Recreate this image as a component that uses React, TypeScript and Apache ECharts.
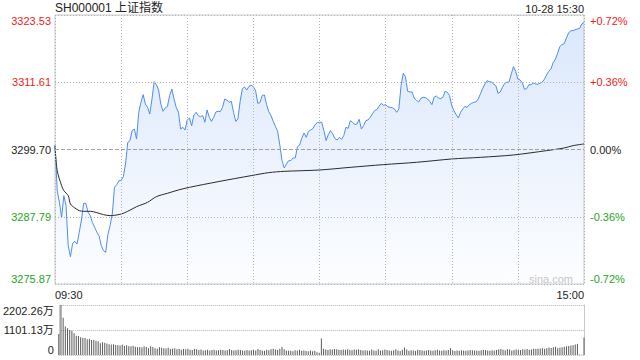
import React, { useEffect, useRef } from "react";
import * as echarts from "echarts";

const title = "SH000001 上证指数";
const dateText = "10-28 15:30";
const preClose = 3299.7;
const halfRange = 23.83;
const leftLabels = ["3275.87", "3287.79", "3299.70", "3311.61", "3323.53"];
const rightLabels = ["-0.72%", "-0.36%", "0.00%", "+0.36%", "+0.72%"];
const volLabels = ["0", "1101.13万", "2202.26万"];
const volMax = 2202.26;
const timeLabels = ["09:30", "15:00"];

// minute-by-minute index price (index = minutes since 09:30, lunch break removed)
const prices = [
  3300.38, 3292.41, 3290.34, 3287.68, 3291.52, 3289.75, 3282.66, 3280.71, 3283.08, 3283.43,
  3282.96, 3285.03, 3287.21, 3290.16, 3290.16, 3288.57, 3287.98, 3286.74, 3285.91, 3285.03,
  3284.38, 3282.66, 3281.78, 3281.48, 3284.61, 3286.21, 3288.27, 3293.0, 3293.47, 3294.18,
  3294.18, 3294.89, 3297.13, 3300.97, 3301.27, 3303.04, 3303.33, 3301.56, 3306.29, 3308.06,
  3309.42, 3307.76, 3307.17, 3305.99, 3308.65, 3311.72, 3311.19, 3310.24, 3307.76, 3306.47,
  3307.06, 3307.29, 3309.24, 3310.42, 3308.65, 3307.17, 3306.29, 3303.33, 3303.63, 3303.16,
  3304.93, 3305.28, 3303.92, 3305.82, 3306.29, 3305.7, 3305.52, 3305.7, 3304.52, 3306.7,
  3305.4, 3304.69, 3305.4, 3306.35, 3306.47, 3306.41, 3307.17, 3308.65, 3308.47, 3308.06,
  3308.24, 3306.29, 3304.69, 3305.11, 3308.24, 3310.48, 3310.78, 3310.24, 3310.89, 3311.07,
  3310.84, 3310.13, 3307.88, 3308.0, 3309.3, 3309.36, 3307.65, 3306.41, 3305.7, 3304.69,
  3303.81, 3302.92, 3300.5, 3297.72, 3296.42, 3297.13, 3297.72, 3297.72, 3298.2, 3298.2,
  3300.2, 3300.5, 3301.74, 3302.63, 3301.86, 3302.92, 3303.16, 3303.39, 3304.1, 3304.46,
  3304.52, 3304.52, 3303.04, 3301.27, 3302.33, 3303.04, 3302.45, 3301.62, 3301.39, 3301.86,
  3301.5, 3302.15, 3303.63, 3303.45, 3304.81, 3304.52, 3304.1, 3304.22, 3305.05, 3303.33,
  3303.92, 3304.81, 3304.93, 3305.4, 3305.99, 3306.58, 3306.76, 3307.35, 3307.88, 3307.53,
  3307.65, 3307.29, 3307.17, 3307.11, 3306.88, 3306.29, 3306.88, 3311.01, 3313.2, 3312.61,
  3310.01, 3309.89, 3309.89, 3308.77, 3308.41, 3308.12, 3308.77, 3308.95, 3308.89, 3308.65,
  3308.24, 3307.65, 3308.95, 3309.18, 3308.83, 3308.71, 3308.95, 3310.01, 3309.83, 3309.24,
  3307.47, 3306.58, 3305.87, 3305.28, 3306.29, 3306.88, 3307.35, 3307.17, 3307.65, 3307.88,
  3308.06, 3308.12, 3308.65, 3309.54, 3310.48, 3311.31, 3311.9, 3311.72, 3311.66, 3311.31,
  3311.01, 3309.65, 3309.89, 3310.72, 3311.43, 3311.6, 3311.66, 3313.08, 3314.38, 3313.55,
  3312.19, 3312.02, 3311.54, 3310.36, 3310.48, 3311.19, 3311.19, 3311.49, 3311.31, 3311.25,
  3311.43, 3311.6, 3312.13, 3312.9, 3313.55, 3313.97, 3315.09, 3315.68, 3316.74, 3317.92,
  3318.28, 3318.45, 3319.46, 3320.34, 3320.76, 3320.76, 3320.93, 3321.05, 3321.17, 3321.94, 3322.23,
];

// average price line
const avgMinutes = [0, 1, 3, 4, 6, 7, 9, 11, 13, 16, 19, 22, 25, 27, 30, 33, 37, 42, 46, 51, 56, 61, 74, 89, 97, 104, 120, 134, 149, 164, 180, 193, 208, 223, 231, 235, 240];
const avgValues = [
  3300.38, 3295.95, 3293.29, 3292.41, 3291.52, 3290.05, 3289.34, 3288.87, 3288.75, 3288.75,
  3288.51, 3288.16, 3287.98, 3288.04, 3288.27, 3288.75, 3289.57, 3290.34, 3291.35, 3291.94,
  3292.53, 3293.0, 3294.0, 3295.07, 3295.6, 3295.83, 3296.07, 3296.54, 3297.02, 3297.43,
  3298.02, 3298.31, 3298.73, 3299.5, 3299.97, 3300.38, 3300.68,
];

// volume per minute (万)
const volumes = [
  930, 2202, 1640, 1250, 1175, 1100, 1057, 954, 851, 837,
  778, 749, 749, 690, 719, 661, 661, 631, 602, 514,
  560, 540, 510, 470, 460, 470, 440, 430, 420, 450,
  400, 430, 390, 380, 410, 360, 340, 350, 330, 380,
  350, 300, 380, 350, 300, 280, 340, 320, 300, 290,
  320, 260, 270, 300, 250, 270, 230, 260, 250, 270,
  230, 220, 260, 250, 220, 240, 200, 210, 230, 200,
  220, 230, 200, 210, 230, 220, 200, 210, 260, 220,
  200, 210, 230, 220, 200, 190, 220, 200, 210, 230,
  200, 260, 220, 200, 190, 230, 210, 250, 280, 240,
  220, 280, 350, 250, 200, 190, 190, 170, 210, 200,
  230, 190, 200, 180, 170, 200, 160, 190, 120, 100,
  730, 270, 240, 220, 250, 240, 260, 250, 230, 220,
  240, 230, 250, 220, 210, 240, 230, 250, 220, 200,
  210, 200, 190, 240, 200, 190, 250, 200, 210, 240,
  220, 200, 190, 210, 250, 200, 180, 230, 330, 240,
  190, 210, 200, 180, 230, 220, 200, 190, 200, 220,
  200, 190, 210, 230, 200, 190, 210, 200, 220, 300,
  210, 180, 200, 190, 210, 200, 190, 200, 220, 210,
  200, 200, 190, 210, 230, 220, 200, 190, 210, 200,
  220, 240, 260, 230, 210, 250, 240, 200, 220, 240,
  230, 220, 250, 240, 260, 230, 240, 270, 260, 280,
  290, 300, 280, 300, 330, 310, 340, 360, 300, 320,
  340, 360, 380, 400, 420, 430, 460, 480, 20, 10, 770,
];

const RED = "#ee1c1c";
const GREEN = "#1ea51e";
const FONT = 'Arial, "Liberation Sans", "Noto Sans CJK SC", sans-serif';
const step = halfRange / 2;
const GRIDDOT = { color: "#b4b4b4", type: [1, 2], width: 1 };

export default function App() {
  const ref = useRef<HTMLDivElement>(null);
  useEffect(() => {
    if (!ref.current) return;
    const chart = echarts.init(ref.current, null, { renderer: "svg" });
    const priceData = prices.map((p, i) => [i, +(p - preClose).toFixed(2)]);
    const avgData = avgMinutes.map((m, i) => [m, +(avgValues[i] - preClose).toFixed(2)]);
    const volData = volumes.map((v, i) => [i, v]);
    const colorFor = (v: number) => (v > 0.01 ? RED : v < -0.01 ? GREEN : "#222");
    chart.setOption({
      animation: false,
      textStyle: { fontFamily: FONT },
      grid: [
        { left: 55, top: 15, width: 529, height: 269, show: true, borderColor: "#c8c8c8", borderWidth: 1, backgroundColor: "transparent" },
        { left: 55, top: 305, width: 529, height: 50 },
      ],
      xAxis: [
        {
          gridIndex: 0, type: "value", min: 0, max: 240, interval: 30,
          axisLine: { show: false }, axisTick: { show: false },
          splitLine: { show: true, lineStyle: GRIDDOT },
          axisLabel: {
            formatter: (v: number) => (v === 0 ? timeLabels[0] : v === 240 ? timeLabels[1] : ""),
            alignMinLabel: "left", alignMaxLabel: "right",
            margin: 5, color: "#222", fontSize: 11, fontFamily: FONT,
          },
          z: 5,
        },
        { gridIndex: 1, type: "value", min: 0, max: 240, show: false },
      ],
      yAxis: [
        {
          gridIndex: 0, type: "value", min: -halfRange, max: halfRange, interval: step, position: "left",
          axisLine: { show: false }, axisTick: { show: false },
          splitLine: { show: true, lineStyle: GRIDDOT },
          axisLabel: {
            formatter: (v: number) => leftLabels[Math.round(v / step) + 2],
            color: (v: number) => colorFor(v),
            margin: 4, fontSize: 11, fontFamily: FONT,
            verticalAlignMinLabel: "bottom", verticalAlignMaxLabel: "top",
          },
          z: 5,
        },
        {
          gridIndex: 0, type: "value", min: -halfRange, max: halfRange, interval: step, position: "right",
          axisLine: { show: false }, axisTick: { show: false }, splitLine: { show: false },
          axisLabel: {
            formatter: (v: number) => rightLabels[Math.round(v / step) + 2],
            color: (v: number) => colorFor(v),
            margin: 6, fontSize: 11, fontFamily: FONT,
            verticalAlignMinLabel: "bottom", verticalAlignMaxLabel: "top",
          },
        },
        {
          gridIndex: 1, type: "value", min: 0, max: volMax, interval: volMax / 2, position: "left",
          axisLine: { show: true, lineStyle: { color: "#c8c8c8" } }, axisTick: { show: false },
          splitLine: { show: true, lineStyle: { color: "#b4b4b4", type: [1, 1], width: 1 } },
          axisLabel: {
            formatter: (v: number) => volLabels[Math.round(v / (volMax / 2))],
            color: "#222", margin: 5, fontSize: 11, fontFamily: FONT,
            verticalAlignMinLabel: "bottom", verticalAlignMaxLabel: "top",
          },
        },
        {
          gridIndex: 1, type: "value", min: 0, max: volMax, interval: volMax / 2, position: "right",
          axisLine: { show: true, lineStyle: { color: "#c8c8c8" } }, axisTick: { show: false },
          splitLine: { show: false }, axisLabel: { show: false },
        },
      ],
      series: [
        {
          type: "line", xAxisIndex: 0, yAxisIndex: 0, data: priceData,
          showSymbol: false, symbol: "none",
          lineStyle: { color: "#4d8cf2", width: 1 },
          areaStyle: {
            origin: "start",
            color: new echarts.graphic.LinearGradient(0, 15, 0, 284, [
              { offset: 0, color: "rgba(77,140,242,0.30)" },
              { offset: 1, color: "rgba(77,140,242,0.02)" },
            ], true),
          },
          markLine: {
            silent: true, symbol: "none", label: { show: false },
            lineStyle: { color: "#a0a0a0", type: [4, 2], width: 1 },
            data: [{ yAxis: 0 }],
          },
          z: 3,
        },
        {
          type: "line", xAxisIndex: 0, yAxisIndex: 0, data: avgData,
          showSymbol: false, symbol: "none", smooth: 0.3,
          lineStyle: { color: "#2a2a2a", width: 1 },
          z: 4,
        },
        {
          type: "bar", xAxisIndex: 1, yAxisIndex: 2, data: volData,
          barWidth: 1, itemStyle: { color: "#5a5a5a" },
        },
      ],
      graphic: [
        { type: "text", left: 55, top: 2, style: { text: title, fontSize: 12, fill: "#222", fontFamily: FONT } },
        { type: "text", right: 56, top: 3, style: { text: dateText, fontSize: 11, fill: "#222", fontFamily: FONT } },
        { type: "text", right: 67, top: 273, style: { text: "sina.com", fontSize: 11, fill: "#c8c8c8", fontFamily: FONT } },
      ],
    });
    return () => chart.dispose();
  }, []);
  return <div ref={ref} style={{ width: 640, height: 360, position: "absolute", left: 0, top: 0 }} />;
}
